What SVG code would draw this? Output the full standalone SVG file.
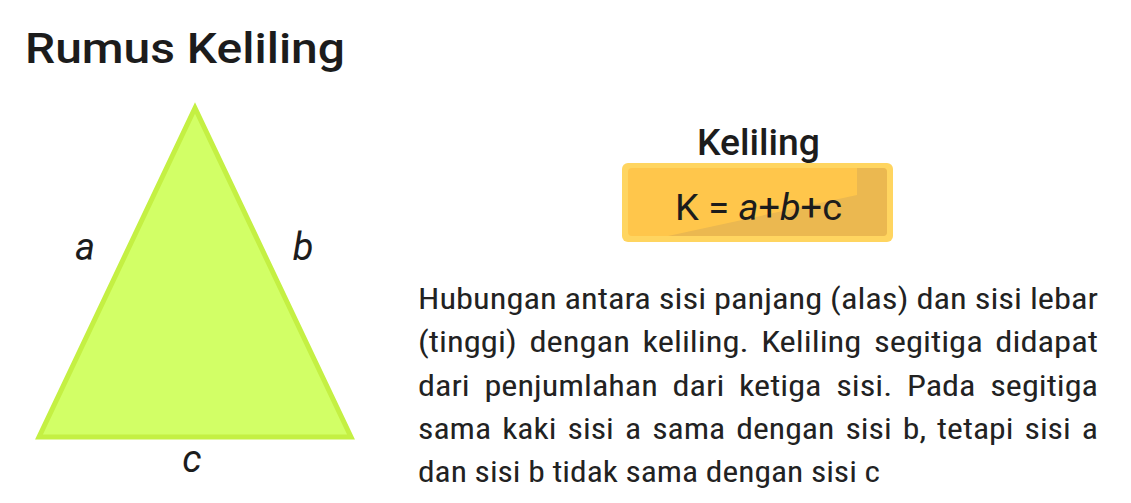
<svg xmlns="http://www.w3.org/2000/svg" width="1131" height="503" viewBox="0 0 1131 503">
<style>
.t{font-family:Roboto,"Liberation Sans",sans-serif;fill:#1c1c1c}
.lbl{font-family:Roboto,"Liberation Sans",sans-serif;font-style:italic;font-size:38px;fill:#1c1c1c}
.p{font-family:"Roboto Condensed",Roboto,"Liberation Sans Narrow","Liberation Sans",sans-serif;font-size:30px;fill:#222}
</style>
<rect width="1131" height="503" fill="#fff"/>
<text class="t" x="25" y="63" font-size="42" font-weight="500" textLength="320" lengthAdjust="spacingAndGlyphs">Rumus Keliling</text>
<g id="triangle">
<polygon points="195,108 39,437 351,437" fill="#D2FF66" stroke="#C4F043" stroke-width="5" stroke-linejoin="miter"/>
<text class="lbl" x="85" y="260" text-anchor="middle">a</text>
<text class="lbl" x="303" y="260" text-anchor="middle">b</text>
<text class="lbl" x="192" y="472" text-anchor="middle">c</text>
</g>
<g id="formula">
<text class="t" x="697" y="155" font-size="36" font-weight="500" textLength="123" lengthAdjust="spacingAndGlyphs">Keliling</text>
<rect x="622" y="163" width="271" height="79" rx="6" fill="#FFD560"/>
<rect x="628" y="168" width="259" height="68" rx="4" fill="#FFC64B"/>
<path d="M857,168 L883,168 Q887,168 887,172 L887,232 Q887,236 883,236 L668,236 L857,195 Z" fill="#EBB850"/>
<text class="t" x="675" y="220" font-size="36" textLength="167" lengthAdjust="spacingAndGlyphs">K = <tspan font-style="italic">a</tspan>+<tspan font-style="italic">b</tspan>+c</text>
</g>
<g id="paragraph">
<text class="p" x="418" y="309" textLength="680" lengthAdjust="spacingAndGlyphs">Hubungan antara sisi panjang (alas) dan sisi lebar</text>
<text class="p" x="418" y="352" textLength="680" lengthAdjust="spacingAndGlyphs" word-spacing="4">(tinggi) dengan keliling. Keliling segitiga didapat</text>
<text class="p" x="418" y="396" textLength="680" lengthAdjust="spacingAndGlyphs" word-spacing="6">dari penjumlahan dari ketiga sisi. Pada segitiga</text>
<text class="p" x="418" y="439" textLength="680" lengthAdjust="spacingAndGlyphs" word-spacing="3">sama kaki sisi a sama dengan sisi b, tetapi sisi a</text>
<text class="p" x="418" y="482" textLength="462" lengthAdjust="spacingAndGlyphs">dan sisi b tidak sama dengan sisi c</text>
</g>
</svg>
